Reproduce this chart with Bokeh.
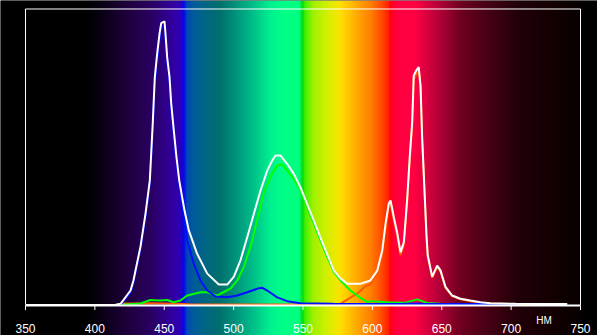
import numpy as np
from bokeh.plotting import figure
from bokeh.models import Range1d
from bokeh.core.properties import value
from bokeh.embed import file_html
from bokeh.resources import INLINE

# ---------------- data ----------------
tick_values = [350, 400, 450, 500, 550, 600, 650, 700, 750]
tick_labels = ["350", "400", "450", "500", "550", "600", "650", "700", "750"]
unit_label = "НМ"

white_wl = [350, 414.9, 418.5, 425.7, 427.8, 432.9, 436.5, 439.6, 441.7, 443.2, 444.9,
            446.6, 447.8, 450.2, 450.9, 452.1, 453.8, 455.0, 456.9, 458.8, 460.8, 462.9,
            464.6, 467.7, 473.7, 481.0, 489.3, 495.4, 500.2, 505.0, 509.8, 514.6, 519.4,
            524.2, 527.8, 530.2, 533.8, 538.6, 543.4, 548.2, 553.0, 557.8, 562.6, 567.4,
            572.3, 577.0, 581.8, 591.4, 598.6, 603.5, 607.1, 609.5, 611.8, 613.1, 615.5,
            617.8, 620.3, 622.7, 625.1, 627.0, 628.7, 629.8, 631.6, 633.4, 634.7, 635.9,
            637.5, 639.0, 639.9, 643.1, 646.7, 649.1, 652.7, 657.5, 663.5, 670.7, 677.9,
            685.1, 703.1, 720.0, 740.4]
white_val = [0, 0.1, 0.4, 4.9, 8.3, 19.8, 30.9, 42.1, 61.3, 77.0, 84.9,
             91.7, 95.2, 95.8, 91.7, 83.7, 77.0, 68.1, 58.9, 50.0, 42.1, 36.4,
             31.9, 25.2, 17.3, 10.6, 6.9, 6.9, 9.6, 15.2, 22.9, 30.8, 38.7,
             45.4, 48.8, 50.5, 50.5, 47.7, 44.3, 39.7, 34.1, 28.5, 22.8, 17.2,
             11.6, 9.0, 7.2, 7.2, 8.3, 11.6, 18.4, 27.5, 34.3, 35.3, 29.6,
             24.6, 17.8, 21.3, 35.9, 50.5, 61.8, 77.5, 79.2, 80.4, 74.2, 56.3,
             39.4, 23.5, 16.8, 9.6, 13.3, 11.7, 6.1, 3.2, 2.1, 1.5, 0.95,
             0.6, 0.4, 0.3, 0.3]

blue_wl = [350, 415, 418.5, 425.7, 427.8, 432.9, 436.5, 439.6, 441.7, 443.2, 444.9,
           446.6, 447.8, 450.2, 450.9, 452.1, 453.8, 455.0, 456.9, 458.8, 460.8, 462.9,
           464.6, 466.5, 471.3, 476.1, 481.0, 487.0, 495.4, 502.6, 509.8, 518.2, 520.8,
           524.2, 531.4, 538.6, 548.2, 572.0, 620.0, 631.0, 638.0, 703.0]
blue_val = [0, 0, 0.1, 4.2, 7.6, 19.0, 30.0, 41.0, 59.0, 75.0, 83.0,
            90.0, 93.5, 94.3, 90.0, 82.0, 75.5, 66.5, 57.5, 48.7, 40.7, 34.5,
            29.5, 21.8, 13.9, 8.3, 4.9, 2.9, 2.6, 3.2, 4.3, 5.7, 5.8,
            4.9, 2.6, 1.3, 0.6, 0.4, 0.3, 0.5, 0.3, 0.3]

green_wl = [350, 417, 432.9, 440, 447.3, 452.3, 456.6, 461.7, 466.5, 476.1, 481.0, 488.2,
            490.5, 497.7, 502.6, 507.3, 512.2, 517.0, 521.7, 526.6, 531.4, 535.0, 538.6,
            543.4, 548.2, 553.0, 557.8, 562.6, 567.4, 572.3, 577.0, 581.8, 584.2, 589.0,
            591.4, 596.3, 598.6, 610.7, 623.9, 632.3, 639.5, 649.0, 660.0]
green_val = [0, 0, 0.5, 1.7, 1.5, 1.7, 0.95, 1.5, 3.2, 4.3, 4.3, 3.2,
             3.8, 5.5, 8.3, 12.8, 19.8, 28.8, 37.8, 43.4, 47.1, 47.5, 45.4,
             42.6, 38.7, 33.1, 27.5, 21.8, 16.2, 11.1, 8.3, 6.0, 4.9, 3.2,
             2.4, 0.95, 1.3, 0.95, 0.8, 1.9, 0.7, 0.4, 0.2]

red_wl = [350, 416, 420, 430, 440, 450, 460, 470, 500, 550, 570, 577, 584.2, 590, 595,
          598.6, 603.5, 607.1, 609.5, 611.8, 613.1, 615.5, 617.8, 620.3, 622.7, 625.1,
          627.0, 628.7, 629.8, 631.6, 633.4, 634.7, 635.9, 637.5, 639.0, 639.9, 643.1,
          646.7, 649.1, 652.7, 657.5, 663.5, 670.7, 677.9, 685.1, 703.1, 720.0, 740.4]
red_val = [0, 0, 0.5, 0.5, 0.6, 0.5, 0.4, 0.2, 0.2, 0.2, 0.3, 0.4, 2.5, 4.2, 6.4,
           7.0, 10.6, 17.4, 26.5, 33.3, 34.3, 28.6, 23.6, 16.8, 20.3, 34.9,
           49.5, 60.8, 76.3, 77.8, 79.4, 73.4, 55.6, 38.9, 23.0, 16.4, 9.2,
           12.9, 11.3, 5.8, 3.0, 1.9, 1.3, 0.8, 0.5, 0.3, 0.25, 0.25]

# ---------------- layout ----------------
X0, X1 = 331.98, 762.25
Y0, Y1 = -10.30, 102.87
FRAME_TOP = 100.0

p = figure(width=597, height=335, x_range=Range1d(X0, X1), y_range=Range1d(Y0, Y1),
           output_backend="svg", toolbar_location=None,
           x_axis_location=None, y_axis_location=None,
           min_border=0, min_border_left=0, min_border_right=0,
           min_border_top=0, min_border_bottom=0,
           background_fill_color="black", border_fill_color="black",
           outline_line_color=None)
p.grid.visible = False

# spectrum background
stops = [(331, '#000000'), (395, '#000000'), (410, '#100020'), (425, '#200040'),
         (440, '#2a0060'), (452, '#300090'), (460, '#3000b0'), (463, '#1800d0'),
         (464.5, '#0010f0'), (466, '#0048b8'), (470, '#005a9c'), (478, '#006488'),
         (490, '#00706c'), (498, '#008878'), (512, '#00b888'), (526, '#00f090'),
         (535, '#00ff88'), (547, '#00ff80'), (549, '#00e840'), (550, '#00d800'),
         (551.5, '#40f000'), (557.5, '#a0f000'), (567, '#d0f000'), (574, '#f0e800'),
         (577, '#ffe000'), (584, '#ffc000'), (591, '#ffa000'), (598.6, '#ff8000'),
         (606, '#ff5000'), (611.6, '#ff2000'), (613, '#ff0010'), (614.5, '#ff0030'),
         (620, '#ff0040'), (631, '#ff0040'), (638, '#e00040'), (649, '#b00038'),
         (663.5, '#700020'), (678, '#500018'), (692, '#380010'), (707, '#200008'),
         (721, '#180005'), (736, '#100000'), (750, '#080000'), (751, '#000000'),
         (763, '#000000')]
sw = np.array([s[0] for s in stops])
rgb = np.array([[int(s[1][i:i + 2], 16) for i in (1, 3, 5)] for s in stops], dtype=float)
N = 1200
xs = np.linspace(X0, X1, N)
img = np.zeros((2, N), dtype=np.uint32)
view = img.view(dtype=np.uint8).reshape((2, N, 4))
for c in range(3):
    ch = np.interp(xs, sw, rgb[:, c]).astype(np.uint8)
    view[:, :, c] = ch
view[:, :, 3] = 255
p.image_rgba(image=[img], x=X0, y=Y0, dw=X1 - X0, dh=Y1 - Y0)

# frame
p.line([tick_values[0], tick_values[0], tick_values[-1], tick_values[-1]],
       [-0.2, FRAME_TOP, FRAME_TOP, -0.2], line_color="white", line_width=1)

# curves
p.line(red_wl, red_val, line_color="#ff5a00", line_width=2)
p.line(green_wl, green_val, line_color="#00ff00", line_width=2)
p.line(blue_wl, blue_val, line_color="#0010ff", line_width=2)
p.line(white_wl, white_val, line_color="white", line_width=2)

# x axis drawn in data space
p.line([tick_values[0], tick_values[-1]], [-0.2, -0.2], line_color="white", line_width=2)
p.segment(x0=tick_values, y0=[-0.2] * len(tick_values), x1=tick_values,
          y1=[-1.7] * len(tick_values), line_color="white", line_width=1)
p.text(x=tick_values, y=[-8.1] * len(tick_values), text=tick_labels,
       text_color="white", text_font=value("Liberation Sans"), text_font_size="12px",
       text_align="center", text_baseline="alphabetic")
p.text(x=[723.8], y=[-5.2], text=[unit_label], text_color="white",
       text_font=value("Liberation Sans"), text_font_size="10px",
       text_align="center", text_baseline="alphabetic")

open("out.html", "w").write(file_html(p, INLINE))
